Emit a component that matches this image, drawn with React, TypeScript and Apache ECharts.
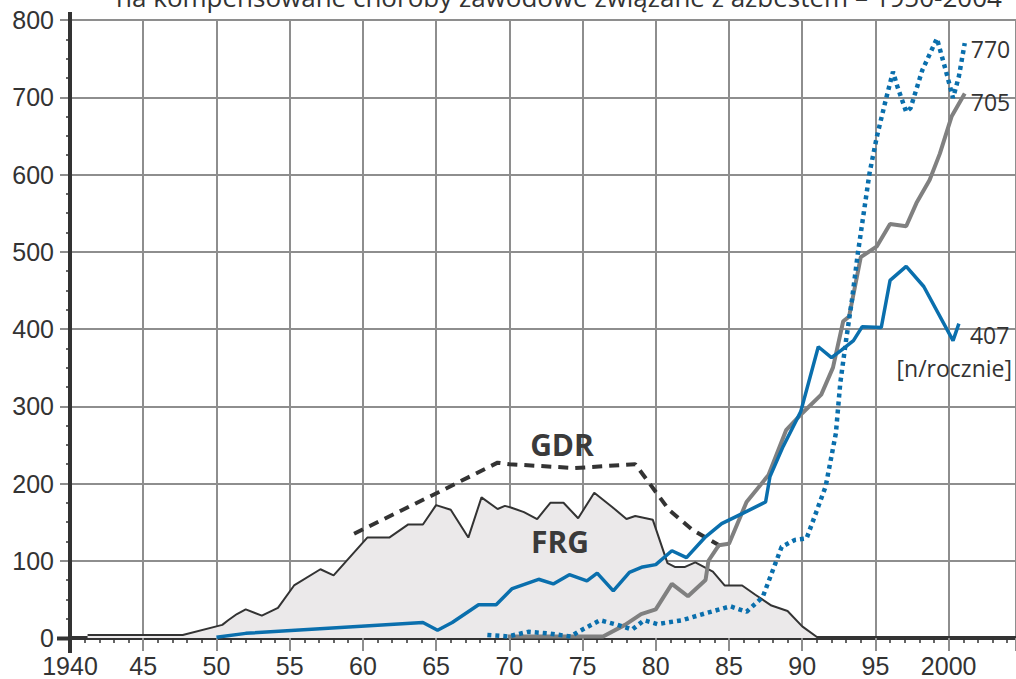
import React, { useEffect, useRef } from "react";
import * as echarts from "echarts";

const titleText = "na kompensowane choroby zawodowe związane z azbestem – 1950-2004";

const xTickYears = [1940, 1945, 1950, 1955, 1960, 1965, 1970, 1975, 1980, 1985, 1990, 1995, 2000];
const xTickLabels = ["1940", "45", "50", "55", "60", "65", "70", "75", "80", "85", "90", "95", "2000"];

// FRG – total (area, thin black line)
const frgYears = [1941.2, 1947.7, 1950.4, 1950.8, 1951.4, 1952, 1953.1, 1954.2, 1955.3, 1957.1, 1958, 1960.3, 1961.8, 1963.1, 1964.1, 1965, 1966, 1967.2, 1968.1, 1969.2, 1969.7, 1970.1, 1971, 1971.9, 1972.8, 1973.7, 1974.7, 1975.8, 1977, 1978, 1978.6, 1979.8, 1980.8, 1981.3, 1982, 1982.7, 1983.9, 1984.7, 1985.9, 1986.8, 1987.9, 1989, 1990, 1991.1];
const frgValues = [4, 4, 17, 23, 31, 37, 29, 39, 68, 89, 81, 130, 130, 147, 147, 172, 166, 130, 182, 167, 171, 169, 163, 154, 175, 175, 155, 188, 170, 154, 158, 153, 97, 92, 92, 98, 86, 68, 68, 56, 42, 35, 15, 0];

// GDR – dashed
const gdrYears = [1959.4, 1965.2, 1969.2, 1970, 1974.5, 1978.6, 1979.5, 1980.9, 1982.5, 1984.7];
const gdrValues = [135, 189, 227, 225, 220, 225, 202, 166, 140, 116];

// gray thick line
const grayYears = [1969.9, 1976.4, 1977.9, 1979, 1980, 1981.1, 1982.2, 1983.4, 1983.6, 1984.3, 1985, 1986.2, 1987.7, 1988.9, 1990, 1991.3, 1992.1, 1992.8, 1993.2, 1994, 1995.1, 1996, 1997.1, 1997.8, 1998.7, 1999.4, 2000.2, 2001.1];
const grayValues = [2, 2, 17, 31, 37, 70, 54, 75, 100, 120, 122, 176, 211, 269, 291, 315, 350, 410, 416, 493, 507, 536, 533, 563, 593, 627, 675, 705];

// blue solid line
const blueYears = [1950, 1952, 1964.1, 1965.1, 1966.1, 1967.9, 1969.1, 1970.2, 1972, 1973, 1974.1, 1975.3, 1976, 1977.1, 1978.2, 1979.1, 1980, 1981.1, 1982.1, 1983.4, 1984.5, 1985.9, 1987.5, 1987.8, 1988.7, 1989.9, 1991.1, 1992, 1992.7, 1993.5, 1994.1, 1995.4, 1996, 1997.1, 1998.3, 2000.3, 2000.7];
const blueValues = [1, 6, 20, 10, 20, 43, 43, 64, 76, 70, 82, 74, 84, 61, 85, 92, 95, 113, 104, 131, 148, 161, 176, 209, 248, 293, 377, 363, 373, 385, 403, 402, 463, 481, 455, 385, 407];

// blue dotted line
const dotYears = [1968.5, 1969.9, 1971.3, 1972.6, 1974.2, 1974.7, 1976.2, 1977.4, 1978.4, 1979.2, 1980.1, 1981.8, 1983.4, 1985.1, 1986.2, 1987.3, 1988.6, 1989.5, 1990.3, 1991.6, 1992.3, 1992.6, 1993, 1993.4, 1993.8, 1994.6, 1995.1, 1995.7, 1996.2, 1996.5, 1997.1, 1997.4, 1998.2, 1999.2, 1999.8, 2000.3, 2000.7, 2001.1];
const dotValues = [4, 2, 8, 6, 2, 8, 23, 17, 11, 23, 18, 23, 32, 41, 34, 53, 118, 127, 129, 196, 265, 330, 386, 438, 498, 602, 649, 696, 733, 714, 681, 686, 735, 776, 735, 699, 727, 770];

const unitLabel = "[n/rocznie]";

const pairs = (xs: number[], ys: number[]) => xs.map((x, i) => [x, ys[i]]);

const DARK = "#333333";
const GRID = "#8e8e8e";
const BLUE = "#0a6fad";
const GRAY = "#808080";
const AXIS_FONT = "'Liberation Sans', Arial, sans-serif";
const TEXT_FONT = "'Open Sans', 'Noto Sans', sans-serif";

const endLabel = (offset: number[], distance = 6) => ({
  show: true,
  distance,
  offset,
  color: DARK,
  fontFamily: TEXT_FONT,
  fontSize: 23,
  formatter: (p: any) => String(p.value[1]),
});

export default function App() {
  const ref = useRef<HTMLDivElement>(null);
  useEffect(() => {
    document.body.style.margin = "0";
    const chart = echarts.init(ref.current!, null, { renderer: "svg" });
    chart.setOption({
      animation: false,
      backgroundColor: "#ffffff",
      grid: { left: 70, right: 0, top: 20, bottom: 41, containLabel: false },
      xAxis: {
        type: "value",
        min: 1940,
        max: 2004.6,
        interval: 5,
        axisLine: { show: true, onZero: false, lineStyle: { color: DARK, width: 4 } },
        axisTick: { show: true, length: 13, lineStyle: { color: GRID, width: 2 } },
        minorTick: { show: true, splitNumber: 5, length: 5, lineStyle: { color: DARK, width: 1.5 } },
        splitLine: { show: true, lineStyle: { color: GRID, width: 2 } },
        axisLabel: {
          show: true,
          margin: 15,
          color: DARK,
          fontFamily: AXIS_FONT,
          fontSize: 25,
          showMaxLabel: false,
          formatter: (v: number) => {
            const i = xTickYears.indexOf(Math.round(v));
            return i >= 0 && Math.abs(v - Math.round(v)) < 1e-6 ? xTickLabels[i] : "";
          },
        },
      },
      yAxis: {
        type: "value",
        min: 0,
        max: 800,
        interval: 100,
        axisLine: { show: true, lineStyle: { color: DARK, width: 4 } },
        axisTick: { show: true, length: 10, lineStyle: { color: GRID, width: 2 } },
        minorTick: { show: true, splitNumber: 4, length: 4, lineStyle: { color: DARK, width: 1.5 } },
        splitLine: { show: true, lineStyle: { color: GRID, width: 2 } },
        axisLabel: { margin: 16, color: DARK, fontFamily: AXIS_FONT, fontSize: 25 },
      },
      graphic: [
        {
          type: "text",
          x: 559,
          y: -16,
          z: 100,
          style: { text: titleText, fill: DARK, font: `26px ${TEXT_FONT}`, align: "center", verticalAlign: "top" },
        },
        {
          type: "line",
          z: 100,
          shape: { x1: 70, y1: 12, x2: 70, y2: 653 },
          style: { stroke: DARK, lineWidth: 4 },
        },
        {
          type: "line",
          z: 100,
          shape: { x1: 57, y1: 638.5, x2: 72, y2: 638.5 },
          style: { stroke: DARK, lineWidth: 4 },
        },
        {
          type: "text",
          x: 562,
          y: 444,
          z: 100,
          style: { text: "GDR", fill: "#3a3a3a", font: `bold 30px ${TEXT_FONT}`, align: "center", verticalAlign: "middle" },
        },
        {
          type: "text",
          x: 560,
          y: 541,
          z: 100,
          style: { text: "FRG", fill: "#3a3a3a", font: `bold 30px ${TEXT_FONT}`, align: "center", verticalAlign: "middle" },
        },
        {
          type: "text",
          x: 1012,
          y: 368,
          z: 100,
          style: { text: unitLabel, fill: DARK, font: `23px ${TEXT_FONT}`, align: "right", verticalAlign: "middle" },
        },
      ],
      series: [
        {
          name: "FRG",
          type: "line",
          data: pairs(frgYears, frgValues),
          symbol: "none",
          z: 1,
          lineStyle: { color: DARK, width: 2 },
          areaStyle: { color: "#ebe9ea", opacity: 1, origin: 0 },
        },
        {
          name: "GDR",
          type: "line",
          data: pairs(gdrYears, gdrValues),
          symbol: "none",
          z: 2,
          lineStyle: { color: DARK, width: 4, type: [10, 7] },
        },
        {
          name: "gray",
          type: "line",
          data: pairs(grayYears, grayValues),
          symbol: "none",
          z: 3,
          lineStyle: { color: GRAY, width: 4 },
          endLabel: endLabel([0, 9]),
        },
        {
          name: "dotted",
          type: "line",
          data: pairs(dotYears, dotValues),
          symbol: "none",
          z: 4,
          lineStyle: { color: BLUE, width: 4.5, type: [4, 4] },
          endLabel: endLabel([0, 6]),
        },
        {
          name: "blue",
          type: "line",
          data: pairs(blueYears, blueValues),
          symbol: "none",
          z: 5,
          lineStyle: { color: BLUE, width: 3.5 },
          endLabel: endLabel([3, 11], 8),
        },
      ],
    });
    return () => chart.dispose();
  }, []);
  return <div ref={ref} style={{ width: 1016, height: 679 }} />;
}
